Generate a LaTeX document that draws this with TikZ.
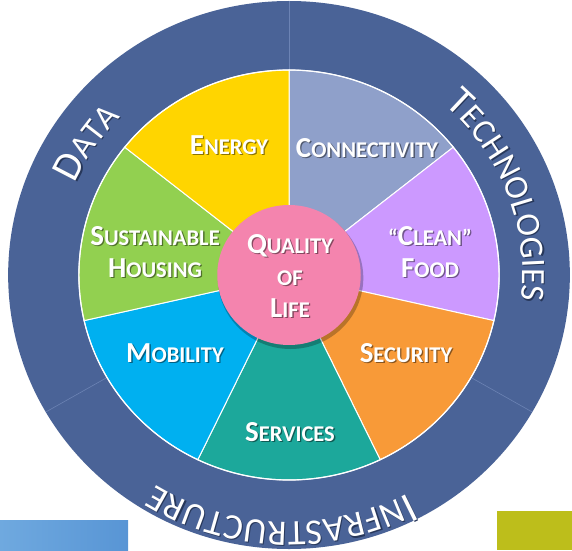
\documentclass[tikz,border=0pt]{standalone}
\usepackage{fontspec}
\setmainfont{Carlito}
\usetikzlibrary{decorations.text}
\tikzset{>=latex}
\definecolor{cring}{HTML}{4A6397}
\definecolor{cline}{HTML}{6C83B4}
\definecolor{cdrk}{HTML}{27375A}
\definecolor{ccon}{HTML}{8FA0CA}
\definecolor{cfod}{HTML}{CC99FF}
\definecolor{csec}{HTML}{F89A38}
\definecolor{csrv}{HTML}{1CA89B}
\definecolor{cmob}{HTML}{00B0F0}
\definecolor{chou}{HTML}{92D050}
\definecolor{cene}{HTML}{FFD500}
\definecolor{cqol}{HTML}{F484AE}
\definecolor{cbar}{HTML}{6FA9DF}
\definecolor{cbad}{HTML}{5895D5}
\definecolor{colv}{HTML}{BDBE1B}
\newcommand*{\capl}[2]{{\fontsize{29}{33}\selectfont #1}#2}
\newcommand*{\rbig}{\fontsize{41}{44}\selectfont}
\newcommand*{\rsml}{\fontsize{34}{44}\selectfont}
\newcommand*{\ibig}{\fontsize{43}{44}\selectfont}
\newcommand*{\isml}{\fontsize{36}{44}\selectfont}
\newcommand*{\lbl}[4]{\node[shd] (#3s) at (#1+1.3, #2-1.3) {#4};\node[lbl] (#3) at (#1, #2) {#4};}
\tikzset{
    wedge/.style={draw=white, line width=1pt},
    lbl/.style={text=white, font=\bfseries\fontsize{22.5}{32}\selectfont, align=center, inner sep=0pt},
    shd/.style={lbl, text=black, opacity=.45},
    ringtxt/.style={decorate, decoration={text along path, text align=center, text color=white}},
    ringshd/.style={decorate, decoration={text along path, text align=center, text color=cdrk}},
}
\begin{document}
\begin{tikzpicture}[x=1pt, y=1pt]
    \useasboundingbox (0, 0) rectangle (572, 550);
    \shade[left color=cbar, right color=cbad] (0, 0) rectangle (128, 30);
    \fill[colv] (497, 0) rectangle (572, 39);
    \begin{scope}[shift={(289, 275)}, xscale=1.025]
        \fill[cring] (0, 0) circle (274);
        \foreach \a in {90, 210, 330}
            \draw[cline, line width=.6pt] (\a:205) -- (\a:274);
        \foreach \c [count=\i from 0] in {ccon, cfod, csec, csrv, cmob, chou, cene}
            \filldraw[wedge, fill=\c] (0, 0) -- (90-\i*360/7:205) arc[start angle=90-\i*360/7, delta angle=-360/7, radius=205] -- cycle;
        \draw[white, line width=1.2pt] (0, 0) circle (205);
        \fill[black, opacity=.25] (1.5, -3) circle (71);
        \fill[cqol] (0, 0) circle (70);
        \foreach \s/\st in {1.2/ringshd, 0/ringtxt} {
            \begin{scope}[shift={(\s, -\s)}]
                \path[\st, decoration={text={|\rbig|D|\rsml|ATA}}] (196.5:228) arc[start angle=196.5, end angle=96.5, radius=228];
                \path[\st, decoration={text={|\rbig|T|\rsml|ECHNOLOGIES}}] (95.7:228) arc[start angle=95.7, end angle=-54.3, radius=228];
                \begin{scope}[xscale=-1]
                    \path[\st, decoration={text={|\ibig|I|\isml|NFRASTRUCTURE}}] (-163:247) arc[start angle=-163, end angle=-13, radius=247];
                \end{scope}
            \end{scope}
        }
    \end{scope}
    \lbl{229}{405}{energy}{\capl{E}{NERGY}}
    \lbl{367}{402}{connect}{\capl{C}{ONNECTIVITY}}
    \lbl{155}{298}{housing}{\capl{S}{USTAINABLE}\\\capl{H}{OUSING}}
    \lbl{430}{298}{food}{``\capl{C}{LEAN}''\\\capl{F}{OOD}}
    \lbl{290}{274}{quality}{\capl{Q}{UALITY}\\OF\\\capl{L}{IFE}}
    \lbl{175}{197}{mobility}{\capl{M}{OBILITY}}
    \lbl{406}{197}{security}{\capl{S}{ECURITY}}
    \lbl{290}{118}{services}{\capl{S}{ERVICES}}
\end{tikzpicture}
\end{document}
